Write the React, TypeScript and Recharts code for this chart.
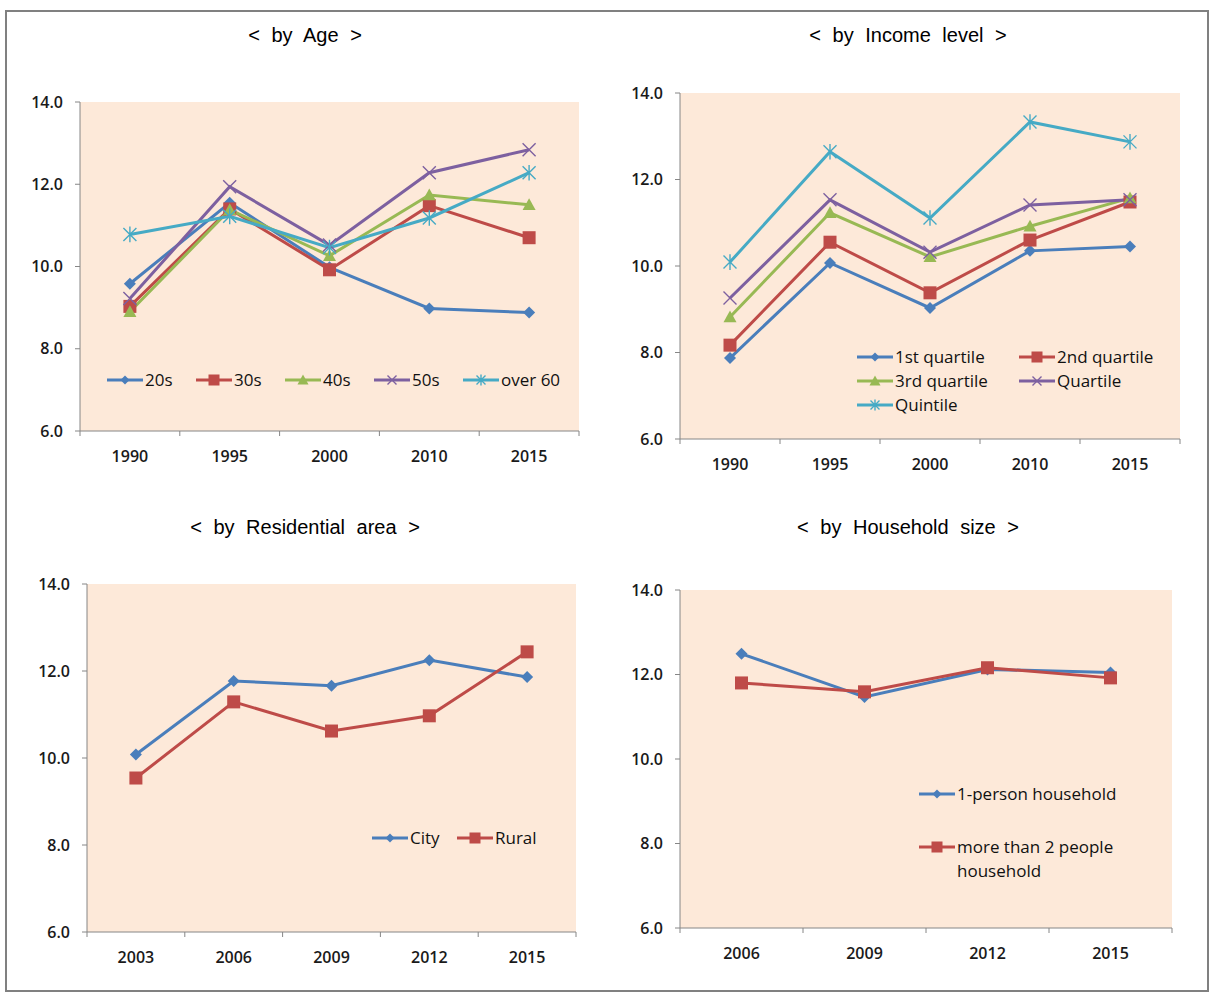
import { CartesianGrid, Legend, Line, LineChart, XAxis, YAxis } from "recharts";

// < by Age >
const ageYears = ["1990", "1995", "2000", "2010", "2015"];
const age20s = [9.58, 11.55, 9.98, 8.98, 8.88];
const age30s = [9.03, 11.4, 9.92, 11.48, 10.7];
const age40s = [8.9, 11.38, 10.26, 11.74, 11.5];
const age50s = [9.22, 11.94, 10.52, 12.28, 12.84];
const ageOver60 = [10.78, 11.22, 10.46, 11.18, 12.28];

// < by Income level >
const incomeYears = ["1990", "1995", "2000", "2010", "2015"];
const income1st = [7.87, 10.07, 9.03, 10.35, 10.45];
const income2nd = [8.17, 10.55, 9.38, 10.6, 11.48];
const income3rd = [8.82, 11.23, 10.21, 10.92, 11.57];
const incomeQuartile = [9.26, 11.53, 10.32, 11.41, 11.53];
const incomeQuintile = [10.09, 12.64, 11.11, 13.33, 12.87];

// < by Residential area >
const areaYears = ["2003", "2006", "2009", "2012", "2015"];
const areaCity = [10.08, 11.77, 11.66, 12.25, 11.86];
const areaRural = [9.54, 11.29, 10.62, 10.97, 12.44];

// < by Household size >
const houseYears = ["2006", "2009", "2012", "2015"];
const house1Person = [12.49, 11.47, 12.12, 12.05];
const house2Plus = [11.8, 11.59, 12.16, 11.92];

const yTicks = [6, 8, 10, 12, 14];

const BLUE = "#4A7EBB";
const RED = "#BE4B48";
const GREEN = "#98B954";
const PURPLE = "#7D60A0";
const CYAN = "#46AAC5";
const AXIS = "#868686";
const PLOT_BG = "#FDE9D9";
const FONT = "'Open Sans', Lato, sans-serif";

type Shape = "diamond" | "square" | "triangle" | "x" | "star";
type Series = { key: string; name: string; color: string; shape: Shape; values: number[] };

function Marker({ shape, cx, cy, color, s }: { shape: Shape; cx: number; cy: number; color: string; s: number }) {
  if (shape === "diamond")
    return <polygon points={`${cx},${cy - s} ${cx + s},${cy} ${cx},${cy + s} ${cx - s},${cy}`} fill={color} />;
  if (shape === "square") return <rect x={cx - s} y={cy - s} width={2 * s} height={2 * s} fill={color} />;
  if (shape === "triangle")
    return <polygon points={`${cx},${cy - s} ${cx + s},${cy + s * 0.8} ${cx - s},${cy + s * 0.8}`} fill={color} />;
  const d =
    `M${cx - s},${cy - s}L${cx + s},${cy + s}M${cx + s},${cy - s}L${cx - s},${cy + s}` +
    (shape === "star" ? `M${cx},${cy - s * 1.2}L${cx},${cy + s * 1.2}` : "");
  return <path d={d} stroke={color} strokeWidth={1.4} fill="none" />;
}

const markerSize: Record<Shape, number> = { diamond: 6, square: 6.5, triangle: 6.5, x: 6.5, star: 6.5 };
const legendMarkerSize: Record<Shape, number> = { diamond: 4.5, square: 5.5, triangle: 5.5, x: 4.5, star: 4.5 };

type LegendCfg = { left: number; top: number; cols: number; colWidth: number; rowHeight: number; textWidth?: number };

type PanelProps = {
  title: string;
  titleX: number;
  titleY: number;
  plotX: number;
  plotY: number;
  pw: number;
  ph: number;
  cats: string[];
  series: Series[];
  legend: LegendCfg;
};

function Panel({ title, titleX, titleY, plotX, plotY, pw, ph, cats, series, legend }: PanelProps) {
  const rows = cats.map((c, i) => {
    const r: Record<string, number | string> = { i, year: c };
    series.forEach((s) => (r[s.key] = s.values[i]));
    return r;
  });
  const band = pw / cats.length;
  const bottom = 20 + ph;

  const XTick = (props: any) => {
    const { x, index } = props;
    const label = cats[index];
    return (
      <g>
        <line x1={x - band / 2} x2={x - band / 2} y1={bottom} y2={bottom + 5} stroke={AXIS} />
        {index === cats.length - 1 && (
          <line x1={x + band / 2} x2={x + band / 2} y1={bottom} y2={bottom + 5} stroke={AXIS} />
        )}
        <text x={x} y={bottom + 25} textAnchor="middle" dominantBaseline="central" fontSize={16} fontWeight={600} fill="#1a1a1a" fontFamily={FONT}>
          {label}
        </text>
      </g>
    );
  };

  const renderLegend = () => (
    <div style={{ position: "relative" }}>
      {series.map((s, i) => (
        <div
          key={s.key}
          style={{
            position: "absolute",
            left: (i % legend.cols) * legend.colWidth,
            top: Math.floor(i / legend.cols) * legend.rowHeight,
            display: "flex",
            alignItems: "flex-start",
            whiteSpace: legend.textWidth ? "normal" : "nowrap",
          }}
        >
          <svg width={39} height={20} style={{ flex: "none" }}>
            <line x1={1} x2={37} y1={10} y2={10} stroke={s.color} strokeWidth={3} />
            <Marker shape={s.shape} cx={19} cy={10} color={s.color} s={legendMarkerSize[s.shape]} />
          </svg>
          <span
            style={{
              fontFamily: FONT,
              fontSize: 17,
              color: "#111",
              lineHeight: "24px",
              marginTop: -2,
              width: legend.textWidth,
            }}
          >
            {s.name}
          </span>
        </div>
      ))}
    </div>
  );

  return (
    <>
      <div
        style={{
          position: "absolute",
          left: titleX - 200,
          width: 400,
          top: titleY - 12,
          textAlign: "center",
          fontFamily: "'Liberation Sans', Arial, sans-serif",
          fontSize: 20,
          wordSpacing: 6,
          whiteSpace: "pre",
          color: "#000",
          lineHeight: "24px",
        }}
      >
        {title}
      </div>
      <div style={{ position: "absolute", left: plotX - 70, top: plotY - 20 }}>
        <LineChart width={pw + 90} height={ph + 60} data={rows} margin={{ top: 20, right: 20, left: 0, bottom: 0 }}>
          <CartesianGrid fill={PLOT_BG} fillOpacity={1} stroke="none" horizontal={false} vertical={false} />
          <XAxis
            dataKey="i"
            type="number"
            domain={[-0.5, cats.length - 0.5]}
            ticks={cats.map((_, i) => i)}
            interval={0}
            height={40}
            tickLine={false}
            axisLine={{ stroke: AXIS }}
            tick={XTick}
          />
          <YAxis
            type="number"
            domain={[6, 14]}
            ticks={yTicks}
            interval={0}
            width={70}
            tickSize={5}
            tickMargin={12}
            tickFormatter={(v: number) => v.toFixed(1)}
            tickLine={{ stroke: AXIS }}
            axisLine={{ stroke: AXIS }}
            tick={{ fontSize: 16, fontWeight: 600, fill: "#1a1a1a", fontFamily: FONT }}
          />
          <Legend
            layout="horizontal"
            verticalAlign="middle"
            align="center"
            content={renderLegend}
            wrapperStyle={{ left: legend.left - (plotX - 70), top: legend.top - (plotY - 20), width: 300, height: 0 }}
          />
          {series.map((s) => (
            <Line
              key={s.key}
              dataKey={s.key}
              name={s.name}
              stroke={s.color}
              strokeWidth={3}
              isAnimationActive={false}
              dot={(p: any) => (
                <Marker key={`${s.key}-${p.index}`} shape={s.shape} cx={p.cx} cy={p.cy} color={s.color} s={markerSize[s.shape]} />
              )}
              activeDot={false}
            />
          ))}
        </LineChart>
      </div>
    </>
  );
}

export default function App() {
  return (
    <div style={{ position: "absolute", left: 0, top: 0, width: 1229, height: 995, background: "#fff" }}>
      <div
        style={{
          position: "absolute",
          left: 5,
          top: 10,
          width: 1204,
          height: 982,
          border: "2px solid #808080",
          boxSizing: "border-box",
        }}
      />
      <Panel
        title="< by Age >"
        titleX={305}
        titleY={35}
        plotX={80}
        plotY={102}
        pw={499}
        ph={329}
        cats={ageYears}
        series={[
          { key: "a20", name: "20s", color: BLUE, shape: "diamond", values: age20s },
          { key: "a30", name: "30s", color: RED, shape: "square", values: age30s },
          { key: "a40", name: "40s", color: GREEN, shape: "triangle", values: age40s },
          { key: "a50", name: "50s", color: PURPLE, shape: "x", values: age50s },
          { key: "a60", name: "over 60", color: CYAN, shape: "star", values: ageOver60 },
        ]}
        legend={{ left: 106, top: 370, cols: 5, colWidth: 89, rowHeight: 24 }}
      />
      <Panel
        title="< by Income level >"
        titleX={908}
        titleY={35}
        plotX={680}
        plotY={93}
        pw={500}
        ph={346}
        cats={incomeYears}
        series={[
          { key: "q1", name: "1st quartile", color: BLUE, shape: "diamond", values: income1st },
          { key: "q2", name: "2nd quartile", color: RED, shape: "square", values: income2nd },
          { key: "q3", name: "3rd quartile", color: GREEN, shape: "triangle", values: income3rd },
          { key: "q4", name: "Quartile", color: PURPLE, shape: "x", values: incomeQuartile },
          { key: "q5", name: "Quintile", color: CYAN, shape: "star", values: incomeQuintile },
        ]}
        legend={{ left: 856, top: 347, cols: 2, colWidth: 162, rowHeight: 24 }}
      />
      <Panel
        title="< by Residential area >"
        titleX={305}
        titleY={527}
        plotX={87}
        plotY={584}
        pw={489}
        ph={348}
        cats={areaYears}
        series={[
          { key: "city", name: "City", color: BLUE, shape: "diamond", values: areaCity },
          { key: "rural", name: "Rural", color: RED, shape: "square", values: areaRural },
        ]}
        legend={{ left: 371, top: 828, cols: 2, colWidth: 85, rowHeight: 24 }}
      />
      <Panel
        title="< by Household size >"
        titleX={908}
        titleY={527}
        plotX={680}
        plotY={590}
        pw={492}
        ph={338}
        cats={houseYears}
        series={[
          { key: "h1", name: "1-person household", color: BLUE, shape: "diamond", values: house1Person },
          { key: "h2", name: "more than 2 people household", color: RED, shape: "square", values: house2Plus },
        ]}
        legend={{ left: 918, top: 784, cols: 1, colWidth: 200, rowHeight: 53, textWidth: 170 }}
      />
    </div>
  );
}
